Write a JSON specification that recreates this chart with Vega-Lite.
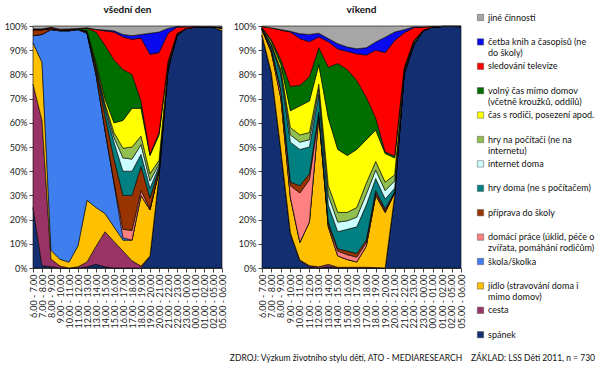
{
  "$schema": "https://vega.github.io/schema/vega-lite/v6.json",
  "padding": {"left": 4, "top": 5, "right": 2, "bottom": 2},
  "datasets": {
    "cinnosti": [
      {"klic": "jine", "label": "jiné činnosti|", "poradi": 14},
      {"klic": "cetba", "label": "četba knih a časopisů (ne|do školy)", "poradi": 13},
      {"klic": "tv", "label": "sledování televize|", "poradi": 12},
      {"klic": "volny", "label": "volný čas mimo domov|(včetně kroužků, oddílů)", "poradi": 11},
      {"klic": "rodice", "label": "čas s rodiči, posezení apod.|", "poradi": 10},
      {"klic": "hrypc", "label": "hry na počítači (ne na|internetu)", "poradi": 9},
      {"klic": "internet", "label": "internet doma|", "poradi": 8},
      {"klic": "hrydoma", "label": "hry doma (ne s počítačem)|", "poradi": 7},
      {"klic": "priprava", "label": "příprava do školy|", "poradi": 6},
      {"klic": "domaci", "label": "domácí práce (úklid, péče o|zvířata, pomáhání rodičům)", "poradi": 5},
      {"klic": "skola", "label": "škola/školka|", "poradi": 4},
      {"klic": "jidlo", "label": "jídlo (stravování doma i|mimo domov)", "poradi": 3},
      {"klic": "cesta", "label": "cesta|", "poradi": 2},
      {"klic": "spanek", "label": "spánek|", "poradi": 1}
    ],
    "casy": [
      {"den": "všední den", "cas": "6.00 - 7.00", "spanek": 25, "cesta": 51, "jidlo": 17, "skola": 3, "domaci": 0, "priprava": 2.5, "hrydoma": 0, "internet": 0, "hrypc": 0, "rodice": 0.1, "volny": 0.1, "tv": 0.1, "cetba": 0, "jine": 1.2},
      {"den": "všední den", "cas": "7.00 - 8.00", "spanek": 1, "cesta": 60, "jidlo": 24, "skola": 11.5, "domaci": 0, "priprava": 2, "hrydoma": 0, "internet": 0, "hrypc": 0, "rodice": 0.1, "volny": 0.1, "tv": 0.1, "cetba": 0, "jine": 1.2},
      {"den": "všední den", "cas": "8.00 - 9.00", "spanek": 0.5, "cesta": 3.2, "jidlo": 3.6, "skola": 91.2, "domaci": 0, "priprava": 0.5, "hrydoma": 0, "internet": 0, "hrypc": 0, "rodice": 0, "volny": 0, "tv": 0.5, "cetba": 0, "jine": 0.5},
      {"den": "všední den", "cas": "9.00 - 10.00", "spanek": 0, "cesta": 0.8, "jidlo": 2.8, "skola": 94.4, "domaci": 0, "priprava": 0.5, "hrydoma": 0, "internet": 0, "hrypc": 0, "rodice": 0, "volny": 0, "tv": 0.2, "cetba": 0, "jine": 1.3},
      {"den": "všední den", "cas": "10.00 - 11.00", "spanek": 0, "cesta": 0, "jidlo": 2.4, "skola": 95.6, "domaci": 0, "priprava": 0.5, "hrydoma": 0, "internet": 0, "hrypc": 0, "rodice": 0, "volny": 0, "tv": 0.3, "cetba": 0, "jine": 1.2},
      {"den": "všední den", "cas": "11.00 - 12.00", "spanek": 0, "cesta": 0.5, "jidlo": 8.7, "skola": 89.3, "domaci": 0, "priprava": 0.3, "hrydoma": 0, "internet": 0, "hrypc": 0, "rodice": 0, "volny": 0.2, "tv": 0, "cetba": 0, "jine": 1},
      {"den": "všední den", "cas": "12.00 - 13.00", "spanek": 0.5, "cesta": 2, "jidlo": 25.5, "skola": 69, "domaci": 0, "priprava": 0.5, "hrydoma": 0.1, "internet": 0.1, "hrypc": 0.1, "rodice": 0.2, "volny": 1, "tv": 0.3, "cetba": 0, "jine": 0.7},
      {"den": "všední den", "cas": "13.00 - 14.00", "spanek": 1.5, "cesta": 7.5, "jidlo": 16, "skola": 55, "domaci": 0, "priprava": 2, "hrydoma": 1, "internet": 0.5, "hrypc": 0.5, "rodice": 1, "volny": 12.5, "tv": 1, "cetba": 0.1, "jine": 1.4},
      {"den": "všední den", "cas": "14.00 - 15.00", "spanek": 0.5, "cesta": 14.5, "jidlo": 7.5, "skola": 34.5, "domaci": 0, "priprava": 6, "hrydoma": 3, "internet": 1, "hrypc": 1, "rodice": 2, "volny": 22, "tv": 6, "cetba": 0.3, "jine": 1.7},
      {"den": "všední den", "cas": "15.00 - 16.00", "spanek": 0, "cesta": 11, "jidlo": 6, "skola": 18, "domaci": 0.5, "priprava": 9.5, "hrydoma": 7, "internet": 2, "hrypc": 2, "rodice": 4, "volny": 26, "tv": 11.5, "cetba": 0.5, "jine": 2},
      {"den": "všední den", "cas": "16.00 - 17.00", "spanek": 0, "cesta": 7, "jidlo": 4.5, "skola": 1, "domaci": 3.5, "priprava": 14, "hrydoma": 10, "internet": 5.5, "hrypc": 4, "rodice": 11.5, "volny": 21, "tv": 13.5, "cetba": 1, "jine": 3.5},
      {"den": "všední den", "cas": "17.00 - 18.00", "spanek": 0, "cesta": 3, "jidlo": 8.5, "skola": 0, "domaci": 4, "priprava": 14.5, "hrydoma": 10, "internet": 5, "hrypc": 5, "rodice": 16, "volny": 14, "tv": 14.5, "cetba": 1.5, "jine": 4},
      {"den": "všední den", "cas": "18.00 - 19.00", "spanek": 0, "cesta": 0.8, "jidlo": 29.2, "skola": 0, "domaci": 2, "priprava": 10, "hrydoma": 5, "internet": 4, "hrypc": 3.5, "rodice": 11.5, "volny": 3, "tv": 26, "cetba": 1.5, "jine": 3.5},
      {"den": "všední den", "cas": "19.00 - 20.00", "spanek": 5, "cesta": 0, "jidlo": 19, "skola": 0, "domaci": 0.5, "priprava": 4.5, "hrydoma": 4, "internet": 3, "hrypc": 3, "rodice": 7.5, "volny": 0.5, "tv": 41.3, "cetba": 8.7, "jine": 3},
      {"den": "všední den", "cas": "20.00 - 21.00", "spanek": 38, "cesta": 0, "jidlo": 2, "skola": 0, "domaci": 0, "priprava": 1, "hrydoma": 1, "internet": 1, "hrypc": 1.5, "rodice": 10.5, "volny": 1, "tv": 33, "cetba": 8.5, "jine": 2.5},
      {"den": "všední den", "cas": "21.00 - 22.00", "spanek": 82, "cesta": 0, "jidlo": 0.5, "skola": 0, "domaci": 0, "priprava": 0.5, "hrydoma": 0.3, "internet": 0.2, "hrypc": 0.5, "rodice": 1, "volny": 0.3, "tv": 11.7, "cetba": 2, "jine": 1},
      {"den": "všední den", "cas": "22.00 - 23.00", "spanek": 96, "cesta": 0, "jidlo": 0.2, "skola": 0, "domaci": 0, "priprava": 0.2, "hrydoma": 0, "internet": 0.2, "hrypc": 0.1, "rodice": 0.2, "volny": 0, "tv": 2.6, "cetba": 0.3, "jine": 0.2},
      {"den": "všední den", "cas": "23.00 - 00.00", "spanek": 99, "cesta": 0, "jidlo": 0, "skola": 0, "domaci": 0, "priprava": 0, "hrydoma": 0, "internet": 0, "hrypc": 0, "rodice": 0, "volny": 0, "tv": 0.7, "cetba": 0, "jine": 0.3},
      {"den": "všední den", "cas": "00.00 - 01.00", "spanek": 99.5, "cesta": 0, "jidlo": 0, "skola": 0, "domaci": 0, "priprava": 0, "hrydoma": 0, "internet": 0, "hrypc": 0, "rodice": 0, "volny": 0, "tv": 0.3, "cetba": 0, "jine": 0.2},
      {"den": "všední den", "cas": "01.00 - 02.00", "spanek": 99.7, "cesta": 0, "jidlo": 0, "skola": 0, "domaci": 0, "priprava": 0, "hrydoma": 0, "internet": 0, "hrypc": 0, "rodice": 0, "volny": 0, "tv": 0, "cetba": 0, "jine": 0.3},
      {"den": "všední den", "cas": "02.00 - 05.00", "spanek": 99.5, "cesta": 0, "jidlo": 0.2, "skola": 0, "domaci": 0, "priprava": 0, "hrydoma": 0, "internet": 0, "hrypc": 0, "rodice": 0, "volny": 0, "tv": 0, "cetba": 0, "jine": 0.3},
      {"den": "všední den", "cas": "05.00 - 06.00", "spanek": 98, "cesta": 0, "jidlo": 1, "skola": 0, "domaci": 0, "priprava": 0.5, "hrydoma": 0, "internet": 0, "hrypc": 0, "rodice": 0, "volny": 0, "tv": 0, "cetba": 0, "jine": 0.5},
      {"den": "víkend", "cas": "6.00 - 7.00", "spanek": 96, "cesta": 0.3, "jidlo": 2.2, "skola": 0, "domaci": 0.2, "priprava": 0.2, "hrydoma": 0.2, "internet": 0, "hrypc": 0, "rodice": 0.2, "volny": 0.1, "tv": 0.4, "cetba": 0, "jine": 0.2},
      {"den": "víkend", "cas": "7.00 - 8.00", "spanek": 80, "cesta": 0.5, "jidlo": 8.5, "skola": 0, "domaci": 1, "priprava": 0.5, "hrydoma": 1.5, "internet": 0.3, "hrypc": 0.3, "rodice": 1, "volny": 0.6, "tv": 5, "cetba": 0, "jine": 0.8},
      {"den": "víkend", "cas": "8.00 - 9.00", "spanek": 48, "cesta": 0.5, "jidlo": 21.5, "skola": 0, "domaci": 3, "priprava": 0.5, "hrydoma": 6.5, "internet": 1, "hrypc": 1, "rodice": 2, "volny": 2, "tv": 12.3, "cetba": 0.2, "jine": 1.5},
      {"den": "víkend", "cas": "9.00 - 10.00", "spanek": 14, "cesta": 0.5, "jidlo": 14.5, "skola": 0, "domaci": 5, "priprava": 1.5, "hrydoma": 16.5, "internet": 3, "hrypc": 3, "rodice": 7, "volny": 10, "tv": 22.5, "cetba": 0.3, "jine": 2.2},
      {"den": "víkend", "cas": "10.00 - 11.00", "spanek": 3, "cesta": 0.3, "jidlo": 7.3, "skola": 0, "domaci": 20.4, "priprava": 3, "hrydoma": 15, "internet": 3, "hrypc": 3, "rodice": 12, "volny": 8.5, "tv": 19.3, "cetba": 2, "jine": 3.2},
      {"den": "víkend", "cas": "11.00 - 12.00", "spanek": 0.5, "cesta": 0.5, "jidlo": 18, "skola": 0, "domaci": 17.5, "priprava": 2.5, "hrydoma": 11, "internet": 3, "hrypc": 3, "rodice": 13, "volny": 10, "tv": 14.5, "cetba": 3, "jine": 3.5},
      {"den": "víkend", "cas": "12.00 - 13.00", "spanek": 0, "cesta": 0.5, "jidlo": 62.5, "skola": 0, "domaci": 0.5, "priprava": 1, "hrydoma": 7.5, "internet": 2, "hrypc": 2, "rodice": 8, "volny": 7, "tv": 4.5, "cetba": 1.5, "jine": 3},
      {"den": "víkend", "cas": "13.00 - 14.00", "spanek": 0.5, "cesta": 1, "jidlo": 15.5, "skola": 0, "domaci": 1, "priprava": 1, "hrydoma": 7, "internet": 4, "hrypc": 4, "rodice": 28, "volny": 21, "tv": 10.5, "cetba": 1.3, "jine": 5.2},
      {"den": "víkend", "cas": "14.00 - 15.00", "spanek": 0, "cesta": 0.3, "jidlo": 4.7, "skola": 0, "domaci": 2, "priprava": 1, "hrydoma": 7, "internet": 4, "hrypc": 4, "rodice": 26, "volny": 35.5, "tv": 6, "cetba": 2.2, "jine": 7.3},
      {"den": "víkend", "cas": "15.00 - 16.00", "spanek": 0, "cesta": 0.3, "jidlo": 3.2, "skola": 0, "domaci": 2, "priprava": 1.5, "hrydoma": 9, "internet": 3.5, "hrypc": 3.5, "rodice": 23.5, "volny": 35.5, "tv": 7.5, "cetba": 1.8, "jine": 8.7},
      {"den": "víkend", "cas": "16.00 - 17.00", "spanek": 0, "cesta": 0.3, "jidlo": 2.2, "skola": 0, "domaci": 2, "priprava": 1.5, "hrydoma": 11, "internet": 4, "hrypc": 4, "rodice": 24, "volny": 28.5, "tv": 11, "cetba": 2.1, "jine": 9.4},
      {"den": "víkend", "cas": "17.00 - 18.00", "spanek": 0, "cesta": 0.3, "jidlo": 8.7, "skola": 0, "domaci": 1.5, "priprava": 1, "hrydoma": 14.5, "internet": 4.5, "hrypc": 4.5, "rodice": 18, "volny": 17.6, "tv": 17.4, "cetba": 3, "jine": 9},
      {"den": "víkend", "cas": "18.00 - 19.00", "spanek": 0, "cesta": 0.2, "jidlo": 29.8, "skola": 0, "domaci": 1, "priprava": 1, "hrydoma": 5, "internet": 3.5, "hrypc": 3.5, "rodice": 13, "volny": 5, "tv": 28, "cetba": 3.4, "jine": 6.6},
      {"den": "víkend", "cas": "19.00 - 20.00", "spanek": 0, "cesta": 0, "jidlo": 23, "skola": 0, "domaci": 0.5, "priprava": 1, "hrydoma": 4, "internet": 3.5, "hrypc": 3.5, "rodice": 11.8, "volny": 0.7, "tv": 41, "cetba": 6.4, "jine": 4.6},
      {"den": "víkend", "cas": "20.00 - 21.00", "spanek": 30, "cesta": 0, "jidlo": 1, "skola": 0, "domaci": 0, "priprava": 0.5, "hrydoma": 1.5, "internet": 3, "hrypc": 2.5, "rodice": 7, "volny": 0.8, "tv": 47.7, "cetba": 3.5, "jine": 2.5},
      {"den": "víkend", "cas": "21.00 - 22.00", "spanek": 80, "cesta": 0, "jidlo": 0.5, "skola": 0, "domaci": 0, "priprava": 0.3, "hrydoma": 0.2, "internet": 0.5, "hrypc": 0.5, "rodice": 0.5, "volny": 0.2, "tv": 14.5, "cetba": 1.3, "jine": 1.5},
      {"den": "víkend", "cas": "22.00 - 23.00", "spanek": 92, "cesta": 0, "jidlo": 0.3, "skola": 0, "domaci": 0, "priprava": 0.2, "hrydoma": 0.2, "internet": 0.5, "hrypc": 0.3, "rodice": 0.3, "volny": 0, "tv": 5.5, "cetba": 0.3, "jine": 0.4},
      {"den": "víkend", "cas": "23.00 - 00.00", "spanek": 98, "cesta": 0, "jidlo": 0, "skola": 0, "domaci": 0, "priprava": 0, "hrydoma": 0, "internet": 0.2, "hrypc": 0, "rodice": 0, "volny": 0, "tv": 1.4, "cetba": 0, "jine": 0.4},
      {"den": "víkend", "cas": "00.00 - 01.00", "spanek": 99.6, "cesta": 0, "jidlo": 0, "skola": 0, "domaci": 0, "priprava": 0, "hrydoma": 0, "internet": 0, "hrypc": 0, "rodice": 0, "volny": 0, "tv": 0.2, "cetba": 0, "jine": 0.2},
      {"den": "víkend", "cas": "01.00 - 02.00", "spanek": 99.8, "cesta": 0, "jidlo": 0, "skola": 0, "domaci": 0, "priprava": 0, "hrydoma": 0, "internet": 0, "hrypc": 0, "rodice": 0, "volny": 0, "tv": 0, "cetba": 0, "jine": 0.2},
      {"den": "víkend", "cas": "02.00 - 05.00", "spanek": 99.8, "cesta": 0, "jidlo": 0, "skola": 0, "domaci": 0, "priprava": 0, "hrydoma": 0, "internet": 0, "hrypc": 0, "rodice": 0, "volny": 0, "tv": 0, "cetba": 0, "jine": 0.2},
      {"den": "víkend", "cas": "05.00 - 06.00", "spanek": 99.7, "cesta": 0, "jidlo": 0.1, "skola": 0, "domaci": 0, "priprava": 0, "hrydoma": 0, "internet": 0, "hrypc": 0, "rodice": 0, "volny": 0, "tv": 0, "cetba": 0, "jine": 0.2}
    ]
  },
  "data": {"name": "casy"},
  "transform": [
    {"fold": ["spanek", "cesta", "jidlo", "skola", "domaci", "priprava", "hrydoma", "internet", "hrypc", "rodice", "volny", "tv", "cetba", "jine"], "as": ["klic", "podil"]},
    {"lookup": "klic", "from": {"data": {"name": "cinnosti"}, "key": "klic", "fields": ["label", "poradi"]}}
  ],
  "spacing": 6,
  "hconcat": [
    {
      "width": 189,
      "height": 242,
      "title": {"text": "všední den"},
      "transform": [{"filter": "datum.den === 'všední den'"}],
      "mark": {"type": "area", "interpolate": "linear", "stroke": "#000", "strokeWidth": 0.6},
      "encoding": {
        "x": {"field": "cas", "type": "ordinal", "sort": null, "scale": {"type": "point", "padding": 0}, "axis": {"labelAngle": -90, "title": null}},
        "y": {"field": "podil", "type": "quantitative", "stack": "normalize", "scale": {"domain": [0, 1]}, "axis": {"format": ".0%", "values": [0, 0.1, 0.2, 0.3, 0.4, 0.5, 0.6, 0.7, 0.8, 0.9, 1], "title": null}},
        "color": {"field": "label", "type": "nominal",
          "scale": {
            "domain": ["jiné činnosti|", "četba knih a časopisů (ne|do školy)", "sledování televize|", "volný čas mimo domov|(včetně kroužků, oddílů)", "čas s rodiči, posezení apod.|", "hry na počítači (ne na|internetu)", "internet doma|", "hry doma (ne s počítačem)|", "příprava do školy|", "domácí práce (úklid, péče o|zvířata, pomáhání rodičům)", "škola/školka|", "jídlo (stravování doma i|mimo domov)", "cesta|", "spánek|"],
            "range": ["#A6A6A6", "#0A0AEE", "#FF0000", "#006F00", "#FFFF00", "#92C050", "#CCFFFF", "#008080", "#993300", "#FF8080", "#3F7EEF", "#FFC000", "#993366", "#132F72"]
          },
          "legend": {"title": null, "labelExpr": "split(datum.label, '|')", "orient": "none", "legendX": 443, "legendY": -13}
        },
        "order": {"field": "poradi", "type": "quantitative"}
      }
    },
    {
      "width": 199,
      "height": 242,
      "title": {"text": "víkend"},
      "transform": [{"filter": "datum.den === 'víkend'"}],
      "mark": {"type": "area", "interpolate": "linear", "stroke": "#000", "strokeWidth": 0.6},
      "encoding": {
        "x": {"field": "cas", "type": "ordinal", "sort": null, "scale": {"type": "point", "padding": 0}, "axis": {"labelAngle": -90, "title": null}},
        "y": {"field": "podil", "type": "quantitative", "stack": "normalize", "scale": {"domain": [0, 1]}, "axis": {"format": ".0%", "values": [0, 0.1, 0.2, 0.3, 0.4, 0.5, 0.6, 0.7, 0.8, 0.9, 1], "title": null}},
        "color": {"field": "label", "type": "nominal", "legend": {"title": null, "labelExpr": "split(datum.label, '|')", "orient": "none", "legendX": 443, "legendY": -13}},
        "order": {"field": "poradi", "type": "quantitative"}
      }
    }
  ],
  "title": {
    "text": "ZDROJ: Výzkum životního stylu dětí, ATO - MEDIARESEARCH\u00a0\u00a0\u00a0\u00a0ZÁKLAD: LSS Děti 2011, n = 730",
    "orient": "bottom", "anchor": "end", "fontSize": 8.5, "fontWeight": "normal", "font": "Lato", "color": "#111", "offset": 3
  },
  "config": {
    "view": {"stroke": null},
    "font": "Lato",
    "title": {"font": "Lato", "fontSize": 10, "fontWeight": "bold", "color": "#111", "offset": 7},
    "axis": {"labelFont": "Lato", "labelFontSize": 9, "labelColor": "#222", "domainColor": "#444", "tickColor": "#444", "tickSize": 4, "grid": false, "labelPadding": 2},
    "legend": {"symbolType": "square", "symbolSize": 40, "symbolStrokeColor": "#555", "symbolStrokeWidth": 0.5, "labelFont": "Lato", "labelFontSize": 9, "labelColor": "#111", "labelLimit": 160, "labelBaseline": "middle", "labelLineHeight": 10, "rowPadding": 3.4, "labelOffset": 3}
  }
}
